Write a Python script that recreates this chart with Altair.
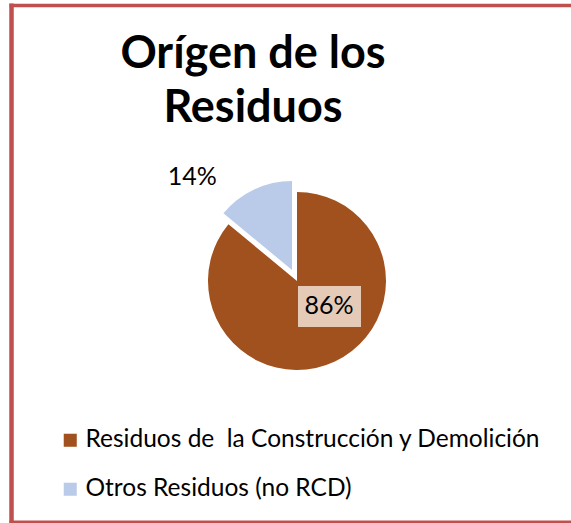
import altair as alt
import pandas as pd

# ---- data ----
categories = ["Residuos de\u00a0 la Construcción y Demolición", "Otros Residuos (no RCD)"]
shares = [86, 14]
pct_labels = ["86%", "14%"]
colors = ["#a1511d", "#bacbea"]
title_lines = ["Orígen de los", "Residuos"]

df = pd.DataFrame({"cat": categories, "share": shares, "label": pct_labels, "order": [0, 1]})

W, H = 571, 523
CX, CY, R = 297, 281, 89
FONT = "Lato"
BORDER = "#c0504d"

base = (
    alt.Chart(df)
    .transform_joinaggregate(total="sum(share)")
    .transform_window(cum="sum(share)", sort=[alt.SortField("order")], frame=[None, 0])
    .transform_calculate(
        start="(datum.cum - datum.share) / datum.total",
        end="datum.cum / datum.total",
        mid="(datum.cum - datum.share / 2) / datum.total",
    )
)

theta_scale = alt.Scale(domain=[0, 1], range=[0, 6.283185307179586])
color = alt.Color(
    "cat:N",
    scale=alt.Scale(domain=categories, range=colors),
    legend=alt.Legend(
        title=None, orient="none", legendX=58, legendY=428,
        symbolType="square", symbolSize=170, symbolStrokeWidth=0,
        labelFont=FONT, labelFontSize=24.5, labelColor="#000000", labelLimit=0,
        labelOffset=3, rowPadding=24, padding=0,
    ),
)

main_slice = base.transform_filter(alt.datum.order == 0).mark_arc(outerRadius=R).encode(
    x=alt.value(CX), y=alt.value(CY),
    theta=alt.Theta("start:Q", scale=theta_scale, stack=None),
    theta2="end:Q",
    color=color,
)
exploded = base.transform_filter(alt.datum.order == 1).mark_arc(outerRadius=R).encode(
    x=alt.value(CX - 5), y=alt.value(CY - 11),
    theta=alt.Theta("start:Q", scale=theta_scale, stack=None),
    theta2="end:Q",
    color=color,
)

box = base.transform_filter(alt.datum.order == 0).mark_rect(color="#e5cab7").encode(
    x=alt.value(298), x2=alt.value(361), y=alt.value(286), y2=alt.value(327)
)

lab_in = base.transform_filter(alt.datum.order == 0).mark_text(
    radius=28, dx=20, dy=0, font=FONT, fontSize=25, color="#000000"
).encode(
    x=alt.value(CX), y=alt.value(CY),
    theta=alt.Theta("mid:Q", scale=theta_scale, stack=None),
    text="label:N",
)
lab_out = base.transform_filter(alt.datum.order == 1).mark_text(
    radius=110, dx=-58, dy=-4, font=FONT, fontSize=25, color="#000000"
).encode(
    x=alt.value(CX), y=alt.value(CY),
    theta=alt.Theta("mid:Q", scale=theta_scale, stack=None),
    text="label:N",
)

one = alt.Chart(alt.Data(values=[{"k": 1}]))
title = one.mark_text(
    font=FONT, fontWeight="bold", fontSize=45, lineHeight=54,
    baseline="alphabetic", align="center", color="#000000"
).encode(x=alt.value(253), y=alt.value(68), text=alt.value(title_lines))

border_left = one.mark_rule(color=BORDER, strokeWidth=4.5).encode(
    x=alt.value(11.5), y=alt.value(3.5), y2=alt.value(H))
border_top = one.mark_rule(color=BORDER, strokeWidth=3.5).encode(
    x=alt.value(9.5), x2=alt.value(W), y=alt.value(5.5))
border_bottom = one.mark_rule(color=BORDER, strokeWidth=3).encode(
    x=alt.value(9.5), x2=alt.value(W), y=alt.value(522))

chart = alt.layer(
    main_slice, exploded, box, lab_in, lab_out, title,
    border_left, border_top, border_bottom,
).properties(
    width=W, height=H, padding=0, autosize=alt.AutoSizeParams(type="none"),
    background="#ffffff",
).configure_view(stroke=None)

chart.save("out.html", embed_options={"renderer": "svg", "actions": False})
